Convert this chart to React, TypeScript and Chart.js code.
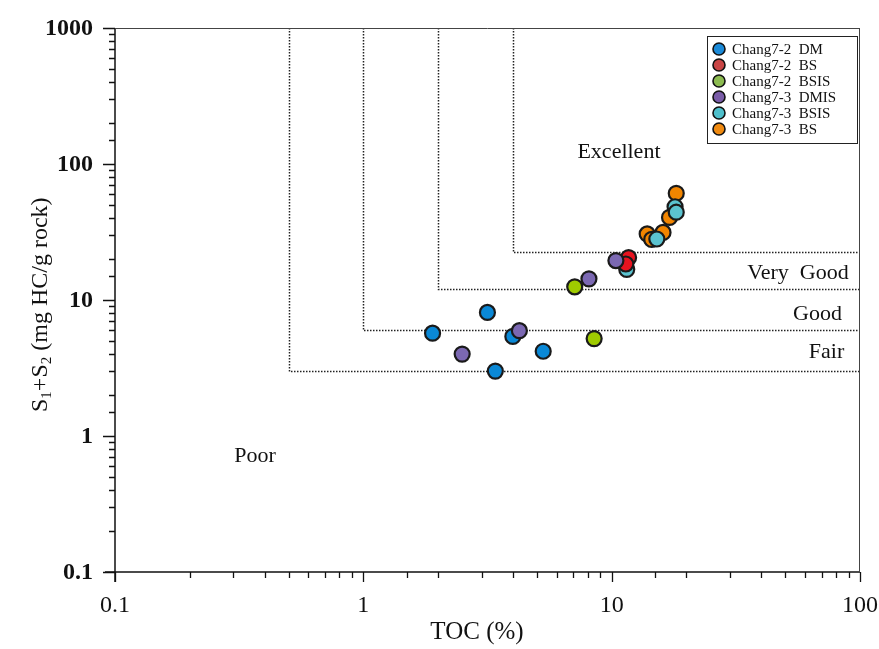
import React, { useEffect, useRef } from "react";
import { Chart, registerables } from "chart.js";

Chart.register(...registerables);

const FONT = '"Liberation Serif", "Times New Roman", serif';

// Series (TOC %, S1+S2 mg HC/g rock)
const seriesNames = [
  "Chang7-2  DM",
  "Chang7-2  BS",
  "Chang7-2  BSIS",
  "Chang7-3  DMIS",
  "Chang7-3  BSIS",
  "Chang7-3  BS",
];
const dmTOC = [1.9, 3.16, 4.0, 5.3, 3.4];
const dmS = [5.7, 8.1, 5.4, 4.2, 3.0];
const bsTOC = [11.7, 11.4];
const bsS = [20.5, 18.4];
const bsisTOC = [7.1, 8.5];
const bsisS = [12.5, 5.2];
const dmis3TOC = [2.5, 4.25, 8.1, 10.4];
const dmis3S = [4.0, 5.95, 14.3, 19.5];
const bsis3TOC = [11.5, 18.0, 18.2, 15.2];
const bsis3S = [16.8, 48.5, 44.2, 28.1];
const bs3TOC = [18.2, 17.1, 13.9, 16.1, 14.5];
const bs3S = [60.9, 40.5, 30.6, 31.4, 27.9];

const pointColors = ["#0a88d6", "#e8131f", "#9fcb00", "#7b68b2", "#5bc3d0", "#f28500"];
const legendColors = ["#1a8ad8", "#c94545", "#8cbb50", "#7a5ca8", "#4fc0cc", "#f08a10"];
const drawOrder = [4, 1, 5, 0, 2, 3];

// Classification thresholds
const boundTOC = [0.5, 1, 2, 4];
const boundS = [3, 6, 12, 22.5];

// Region labels
const regionLabels = ["Excellent", "Very  Good", "Good", "Fair", "Poor"];
const regionTOC = [10.7, 56.3, 67.4, 73.3, 0.366];
const regionS = [110.7, 14.3, 7.13, 3.75, 0.644];

const xTickLabels = ["0.1", "1", "10", "100"];
const yTickLabels = ["0.1", "1", "10", "100", "1000"];

const allTOC = [dmTOC, bsTOC, bsisTOC, dmis3TOC, bsis3TOC, bs3TOC];
const allS = [dmS, bsS, bsisS, dmis3S, bsis3S, bs3S];

function isPow10(v: number) {
  const l = Math.log10(v);
  return Math.abs(l - Math.round(l)) < 1e-6;
}
function fmt(v: number) {
  const l = Math.round(Math.log10(v));
  return l < 0 ? v.toFixed(-l) : String(Math.round(v));
}

const decorPlugin = {
  id: "decor",
  beforeDatasetsDraw(chart: any) {
    const { ctx, chartArea, scales } = chart;
    const xs = scales.x;
    const ys = scales.y;
    ctx.save();
    // classification boundaries
    ctx.strokeStyle = "#222";
    ctx.lineWidth = 1.5;
    ctx.setLineDash([1.5, 1.5]);
    for (let i = 0; i < boundTOC.length; i++) {
      const px = Math.round(xs.getPixelForValue(boundTOC[i])) + 0.5;
      const py = Math.round(ys.getPixelForValue(boundS[i])) + 0.5;
      ctx.beginPath();
      ctx.moveTo(px, chartArea.top);
      ctx.lineTo(px, py);
      ctx.lineTo(chartArea.right, py);
      ctx.stroke();
    }
    ctx.setLineDash([]);
    // region labels
    ctx.fillStyle = "#111";
    ctx.font = `22px ${FONT}`;
    ctx.textAlign = "center";
    ctx.textBaseline = "alphabetic";
    for (let i = 0; i < regionLabels.length; i++) {
      ctx.fillText(
        regionLabels[i],
        xs.getPixelForValue(regionTOC[i]),
        ys.getPixelForValue(regionS[i])
      );
    }
    ctx.restore();
  },
  afterDatasetsDraw(chart: any) {
    const { ctx, chartArea, scales } = chart;
    const xs = scales.x;
    const ys = scales.y;
    const { left, right, top, bottom } = chartArea;
    ctx.save();
    // frame
    ctx.strokeStyle = "#111";
    ctx.lineWidth = 1.5;
    ctx.beginPath();
    ctx.moveTo(left - 10, bottom);
    ctx.lineTo(right, bottom);
    ctx.moveTo(left, bottom + 10);
    ctx.lineTo(left, top);
    ctx.stroke();
    ctx.lineWidth = 1;
    ctx.strokeStyle = "#444";
    ctx.beginPath();
    ctx.moveTo(left, top + 0.5);
    ctx.lineTo(right, top + 0.5);
    ctx.moveTo(right - 0.5, top);
    ctx.lineTo(right - 0.5, bottom);
    ctx.stroke();
    // ticks
    ctx.strokeStyle = "#111";
    ctx.lineWidth = 1.3;
    ctx.beginPath();
    for (const t of xs.ticks) {
      const px = Math.round(xs.getPixelForValue(t.value)) + 0.5;
      const len = isPow10(t.value) ? 10 : 6;
      ctx.moveTo(px, bottom);
      ctx.lineTo(px, bottom + len);
    }
    for (const t of ys.ticks) {
      const py = Math.round(ys.getPixelForValue(t.value)) + 0.5;
      const len = isPow10(t.value) ? 12 : 6;
      ctx.moveTo(left, py);
      ctx.lineTo(left - len, py);
    }
    ctx.stroke();
    // tick labels
    ctx.fillStyle = "#111";
    ctx.font = `24px ${FONT}`;
    ctx.textAlign = "center";
    ctx.textBaseline = "alphabetic";
    for (const t of xs.ticks) {
      if (!isPow10(t.value)) continue;
      const s = fmt(t.value);
      if (!xTickLabels.includes(s)) continue;
      ctx.fillText(s, xs.getPixelForValue(t.value), bottom + 40);
    }
    ctx.font = `bold 24px ${FONT}`;
    ctx.textAlign = "right";
    ctx.textBaseline = "middle";
    for (const t of ys.ticks) {
      if (!isPow10(t.value)) continue;
      const s = fmt(t.value);
      if (!yTickLabels.includes(s)) continue;
      ctx.fillText(s, left - 22, ys.getPixelForValue(t.value) + 1);
    }

    // legend
    const lx = 707, ly = 36, lw = 150, lh = 107;
    ctx.fillStyle = "#fff";
    ctx.fillRect(lx, ly, lw, lh);
    ctx.strokeStyle = "#222";
    ctx.lineWidth = 1;
    ctx.strokeRect(lx + 0.5, ly + 0.5, lw, lh);
    ctx.font = `15px ${FONT}`;
    ctx.textAlign = "left";
    ctx.textBaseline = "middle";
    for (let i = 0; i < seriesNames.length; i++) {
      const cy = ly + 13 + i * 16;
      ctx.beginPath();
      ctx.arc(lx + 12, cy, 6, 0, Math.PI * 2);
      ctx.fillStyle = legendColors[i];
      ctx.fill();
      ctx.lineWidth = 1.6;
      ctx.strokeStyle = "#111";
      ctx.stroke();
      ctx.fillStyle = "#111";
      ctx.fillText(seriesNames[i], lx + 25, cy + 1);
    }

    // x title
    ctx.font = `25px ${FONT}`;
    ctx.textAlign = "center";
    ctx.textBaseline = "alphabetic";
    ctx.fillText("TOC (%)", 477, 639);

    // y title with subscripts
    const big = `24px ${FONT}`;
    const small = `15px ${FONT}`;
    const parts: [string, boolean][] = [
      ["S", false], ["1", true], ["+S", false], ["2", true], [" (mg HC/g rock)", false],
    ];
    let total = 0;
    for (const [s, sub] of parts) {
      ctx.font = sub ? small : big;
      total += ctx.measureText(s).width;
    }
    ctx.translate(47, 412 - total / 2);
    ctx.rotate(-Math.PI / 2);
    let cx = -total / 2;
    ctx.textAlign = "left";
    for (const [s, sub] of parts) {
      ctx.font = sub ? small : big;
      ctx.fillText(s, cx, sub ? 4 : 0);
      cx += ctx.measureText(s).width;
    }
    ctx.restore();
  },
};

export default function App() {
  const ref = useRef<HTMLCanvasElement>(null);
  useEffect(() => {
    if (!ref.current) return;
    const datasets = seriesNames.map((name, i) => ({
      label: name,
      data: allTOC[i].map((x, j) => ({ x, y: allS[i][j] })),
      backgroundColor: pointColors[i],
      borderColor: "#1a1a1a",
      borderWidth: 2.2,
      pointRadius: 7.5,
      order: drawOrder[i],
    }));
    const chart = new Chart(ref.current, {
      type: "scatter",
      data: { datasets },
      plugins: [decorPlugin],
      options: {
        responsive: false,
        animation: false,
        events: [],
        layout: { padding: { top: 28, right: 19, left: 0, bottom: 0 } },
        plugins: { legend: { display: false }, tooltip: { enabled: false } },
        scales: {
          x: {
            type: "logarithmic",
            min: 0.1,
            max: 100,
            grid: { display: false, drawTicks: false },
            border: { display: false },
            ticks: { display: false },
            afterFit(scale: any) {
              scale.height = 77;
            },
          },
          y: {
            type: "logarithmic",
            min: 0.1,
            max: 1000,
            grid: { display: false, drawTicks: false },
            border: { display: false },
            ticks: { display: false },
            afterFit(scale: any) {
              scale.width = 115;
            },
          },
        },
      } as any,
    });
    return () => chart.destroy();
  }, []);
  return (
    <div style={{ position: "fixed", left: 0, top: 0, width: 879, height: 649, background: "#fff" }}>
      <canvas ref={ref} width={879} height={649} />
    </div>
  );
}
